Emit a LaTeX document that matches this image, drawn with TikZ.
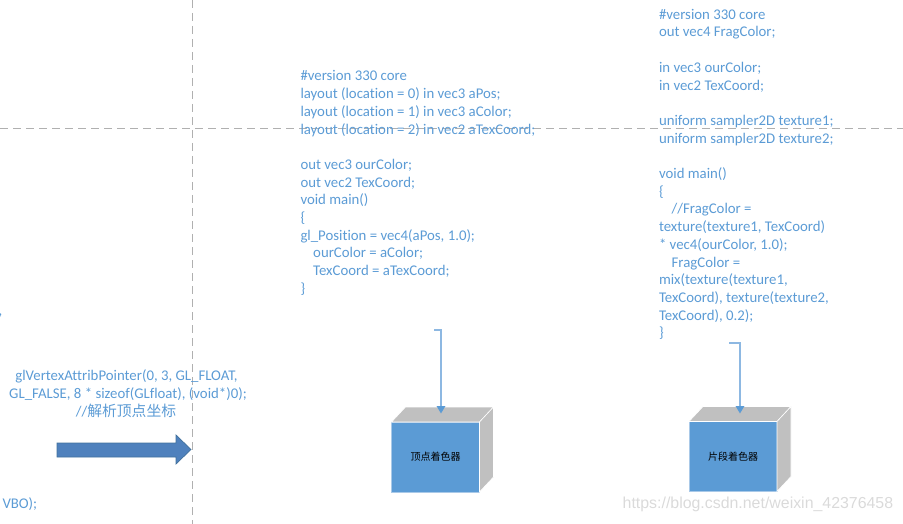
\documentclass[tikz,border=0pt]{standalone}
\usepackage{fontspec}
\setmainfont{Carlito}[Ligatures={NoCommon}]
\newfontfamily\cjk{Noto Sans CJK SC}
\newfontfamily\wmfont{Liberation Sans}
\usetikzlibrary{arrows.meta,calc}
\definecolor{codeblue}{HTML}{5B9BD5}
\definecolor{dashgray}{HTML}{B0B0B0}
\definecolor{arrowfill}{HTML}{4F81BD}
\definecolor{arrowedge}{HTML}{41719C}
\definecolor{facegray}{HTML}{C0C0C0}
\definecolor{linkblue}{HTML}{8DB8E2}
\definecolor{frontedge}{HTML}{A9C9E8}
\definecolor{wmgray}{HTML}{DADADA}
\begin{document}
\begin{tikzpicture}[x=1pt,y=-1pt,
  code/.style={inner sep=0pt, outer sep=0pt, text=codeblue, font=\fontsize{14.8}{17.7}\selectfont},
  guide/.style={dashgray, line width=1.1pt, dash pattern=on 8pt off 5pt},
  front/.style={draw=frontedge, line width=0.6pt, fill=codeblue, minimum width=88pt, minimum height=70pt, inner sep=0pt, outer sep=0pt, font=\cjk\fontsize{10}{12}\selectfont, text=black},
  face/.style={fill=facegray, draw=white, line width=0.6pt},
  link/.style={draw=linkblue, line width=1.6pt, -{Triangle[width=8.5pt,length=7.5pt,color=codeblue]}},
  blockarrow/.style={fill=arrowfill, draw=arrowedge, line width=0.7pt},
  wm/.style={inner sep=0pt, text=wmgray, font=\wmfont\fontsize{15.9}{18}\selectfont}
]
\useasboundingbox (0,0) rectangle (903,524);

% guide lines
\draw[guide] (0,128.3) -- (903,128.3);
\draw[guide] (192.3,0) -- (192.3,524);

% vertex shader source
\foreach \k/\t in {
  0/{\#version 330 core},
  1/{layout (location = 0) in vec3 aPos;},
  2/{layout (location = 1) in vec3 aColor;},
  3/{layout (location = 2) in vec2 aTexCoord;},
  5/{out vec3 ourColor;},
  6/{out vec2 TexCoord;},
  7/{void main()},
  8/{\{},
  9/{gl\_Position = vec4(aPos, 1.0);},
  10/{\hspace*{12.7pt}ourColor = aColor;},
  11/{\hspace*{12.7pt}TexCoord = aTexCoord;},
  12/{\}}}
  \node[code, anchor=base west, name=vl\k] at (300.5, {81+17.7*\k}) {\t};

% fragment shader source
\foreach \k/\t in {
  0/{\#version 330 core},
  1/{out vec4 FragColor;},
  3/{in vec3 ourColor;},
  4/{in vec2 TexCoord;},
  6/{uniform sampler2D texture1;},
  7/{uniform sampler2D texture2;},
  9/{void main()},
  10/{\{},
  11/{\hspace*{12.7pt}//FragColor =},
  12/{texture(texture1, TexCoord)},
  13/{* vec4(ourColor, 1.0);},
  14/{\hspace*{12.7pt}FragColor =},
  15/{mix(texture(texture1,},
  16/{TexCoord), texture(texture2,},
  17/{TexCoord), 0.2);},
  18/{\}}}
  \node[code, anchor=base west, name=fl\k] at (659, {19.3+17.7*\k}) {\t};

% left side
\node[code, anchor=base west] (comma) at (-1.5,315) {,};
\node[code, anchor=base] (l1) at (126.5,380.7) {glVertexAttribPointer(0, 3, GL\_FLOAT,};
\node[code, anchor=base] (l2) at (128,398.4) {GL\_FALSE, 8 * sizeof(GLfloat), (void*)0);};
\node[code, anchor=base] (l3) at (126,416.1) {//{\cjk 解析顶点坐标}};
\node[code, anchor=base west] (vbo) at (2.5,508.3) {VBO);};

\draw[blockarrow] (57,443) -- (176,443) -- (176,435) -- (191,449.5) -- (176,464) -- (176,457) -- (57,457) -- cycle;

% vertex shader box
\node[front] (vs) at (435.5,457) {顶点着色器};
\draw[face] (vs.north west) -- ++(14,-15) -- ($(vs.north east)+(14,-15)$) -- (vs.north east) -- cycle;
\draw[face] (vs.north east) -- ++(14,-15) -- ($(vs.south east)+(14,-15)$) -- (vs.south east) -- cycle;

% fragment shader box
\node[front] (fs) at (733,456.5) {片段着色器};
\draw[face] (fs.north west) -- ++(14,-15) -- ($(fs.north east)+(14,-15)$) -- (fs.north east) -- cycle;
\draw[face] (fs.north east) -- ++(14,-15) -- ($(fs.south east)+(14,-15)$) -- (fs.south east) -- cycle;

% connectors
\coordinate (c1) at (434,330);
\coordinate (c2) at (729,343);
\coordinate (vtop) at ($(vs.north)+(5.5,-8.5)$);
\coordinate (ftop) at ($(fs.north)+(7,-8)$);
\draw[link] (c1) -| (vtop);
\draw[link] (c2) -| (ftop);

% watermark
\node[wm, anchor=base west] (wmark) at (622.5,508) {https://blog.csdn.net/weixin\_42376458};
\end{tikzpicture}
\end{document}
